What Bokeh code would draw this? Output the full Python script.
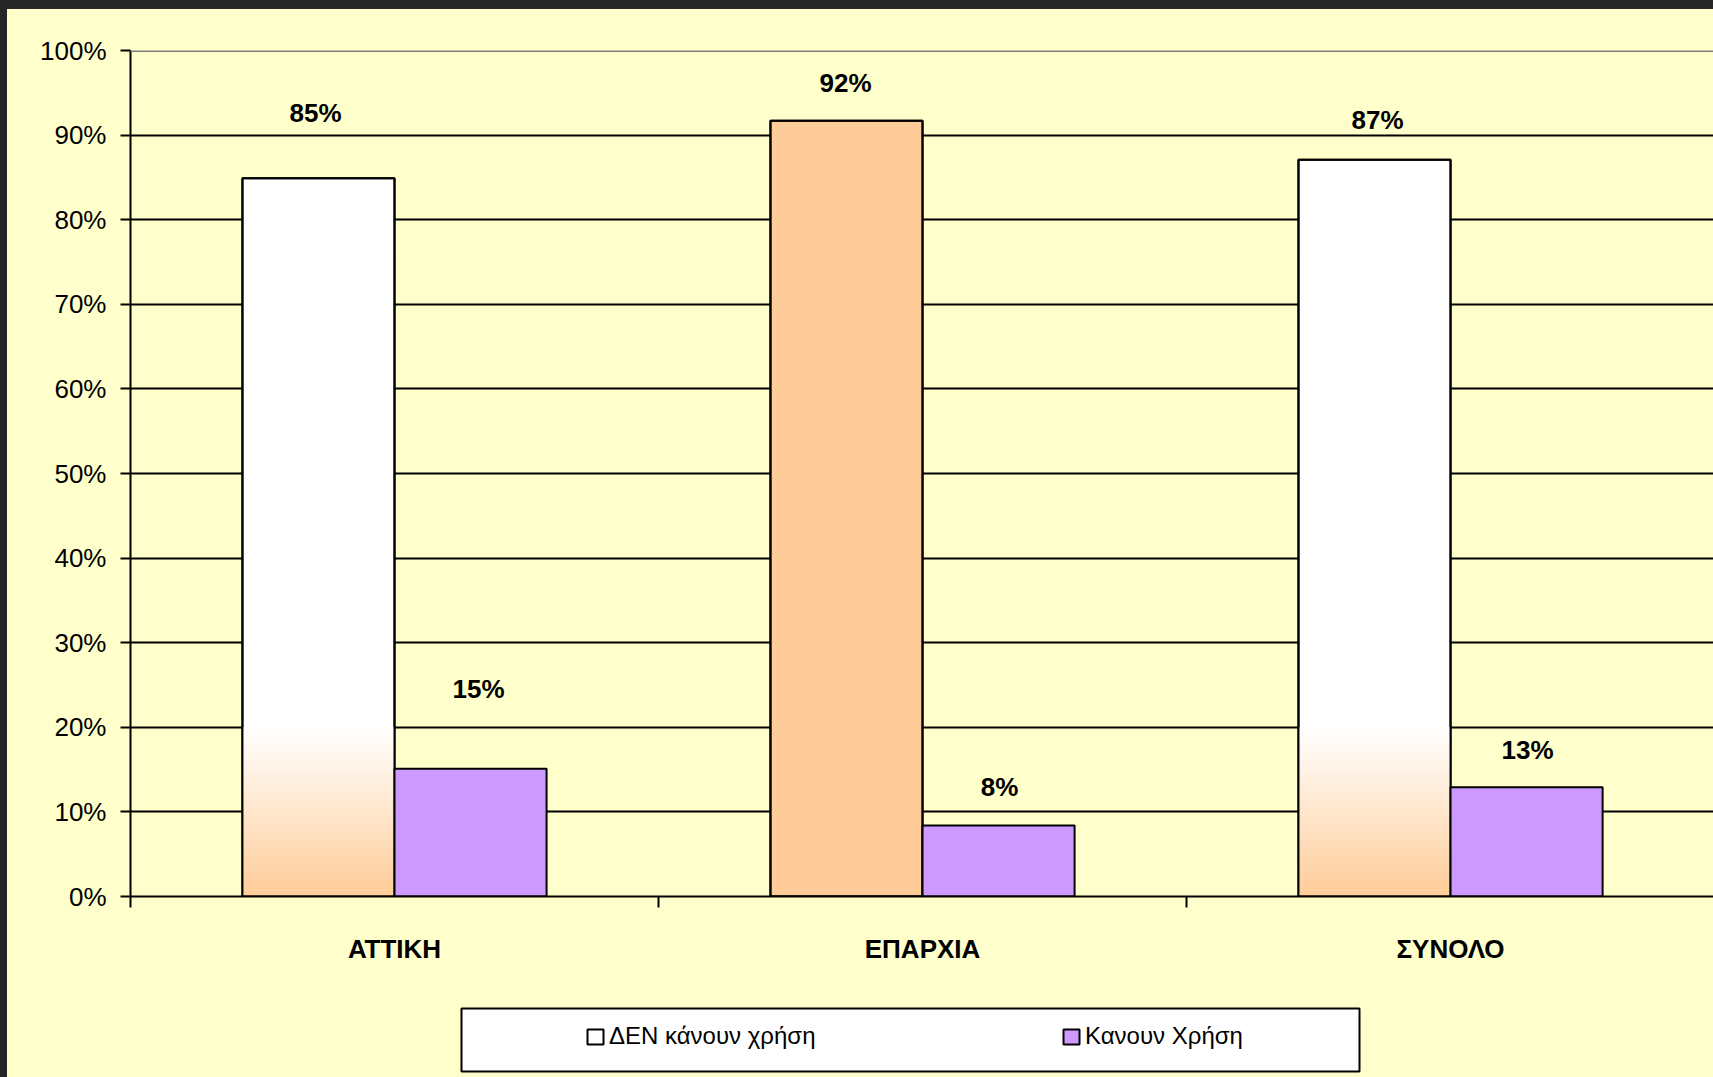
import numpy as np
from bokeh.plotting import figure
from bokeh.layouts import column
from bokeh.models import (Range1d, FixedTicker, NumeralTickFormatter, Span, Legend,
                          LegendItem, BoxAnnotation, GlobalInlineStyleSheet, Grid)
from bokeh.core.properties import value
from bokeh.embed import file_html
from bokeh.resources import INLINE

# ---------------- data ----------------
categories = ["ΑΤΤΙΚΗ", "ΕΠΑΡΧΙΑ", "ΣΥΝΟΛΟ"]
series_names = ["ΔΕΝ κάνουν χρήση", "Κανουν Χρήση"]
den_kanoun = [0.849, 0.917, 0.871]      # ΔΕΝ κάνουν χρήση
kanoun = [0.151, 0.084, 0.129]          # Κανουν Χρήση
y_ticks = [0.0, 0.1, 0.2, 0.3, 0.4, 0.5, 0.6, 0.7, 0.8, 0.9, 1.0]

# ---------------- style ----------------
FONT = "Liberation Sans"
BG = "#FFFFCC"
ORANGE = "#FFCC99"
PURPLE = "#CC99FF"
den_fill = ["white", ORANGE, "white"]
den_gradient = [True, False, True]
label_dx = [-3, -1, 3, 8, 1, 1]
label_dy = [65, 38, 40, 80, 38, 37]

W = 1706
H1, H2 = 985, 83
FRAME_LEFT = 123

p = figure(width=W, height=H1, x_range=Range1d(0, 2.998), y_range=Range1d(0, 1),
           output_backend="svg", toolbar_location=None, title_location=None,
           min_border_left=FRAME_LEFT, min_border_right=0, min_border_top=41,
           min_border_bottom=98,
           background_fill_color=BG, border_fill_color=BG, outline_line_color=None)
p.stylesheets = [GlobalInlineStyleSheet(
    css="html body { background-color: #FFFFCC; border-top: 9px solid #262626; "
        "border-left: 7px solid #262626; box-sizing: border-box; }")]

n = len(categories)
w = 0.288
xc = np.arange(n) + 0.5
x_den = xc - w / 2
x_kan = xc + w / 2

# base bars
p.vbar(x=x_den, top=den_kanoun, width=w, fill_color=den_fill, line_color="black", line_width=2)

# gradient (orange at bottom fading to white)
N = 30
g_top = 0.2
gl, gr, gb, gt, gc = [], [], [], [], []
orange_rgb = np.array([255, 204, 153])
white_rgb = np.array([255, 255, 255])
for i in range(n):
    if not den_gradient[i]:
        continue
    top_i = min(g_top, den_kanoun[i])
    for k in range(N):
        b = k * top_i / N
        t = min((k + 1) * top_i / N + 0.001, top_i)
        f = (k + 0.5) / N
        c = orange_rgb + (white_rgb - orange_rgb) * f
        gl.append(x_den[i] - w / 2)
        gr.append(x_den[i] + w / 2)
        gb.append(b)
        gt.append(t)
        gc.append("#%02X%02X%02X" % tuple(int(round(v)) for v in c))
p.quad(left=gl, right=gr, bottom=gb, top=gt, fill_color=gc, line_color=None)

# outlines on top
p.vbar(x=x_den, top=den_kanoun, width=w, fill_color=None, line_color="black", line_width=2)
p.vbar(x=x_kan, top=kanoun, width=w, fill_color=PURPLE, line_color="black", line_width=2)

# value labels
lx = list(x_den) + list(x_kan)
ly = list(den_kanoun) + list(kanoun)
lt = ["%d%%" % round(v * 100) for v in ly]
p.text(x=lx, y=ly, text=lt, x_offset=label_dx, y_offset=[-d for d in label_dy],
       text_align="center", text_baseline="middle", text_font=value(FONT),
       text_font_style="bold", text_font_size="26px", text_color="black")

# top border line (grey)
p.add_layout(Span(location=y_ticks[-1], dimension="width", line_color="#808080", line_width=3))

# axes
xa = p.xaxis[0]
xa.ticker = FixedTicker(ticks=list(xc), minor_ticks=list(range(n + 1)))
xa.major_label_overrides = {float(xc[i]): categories[i] for i in range(n)}
xa.axis_line_color = "black"
xa.axis_line_width = 2
xa.major_tick_line_color = None
xa.major_tick_in = 0
xa.major_tick_out = 0
xa.minor_tick_in = 0
xa.minor_tick_out = 11
xa.minor_tick_line_color = "black"
xa.minor_tick_line_width = 2
xa.major_label_text_font = FONT
xa.major_label_text_font_size = "26px"
xa.major_label_text_font_style = "bold"
xa.major_label_text_color = "black"
xa.major_label_standoff = 26

ya = p.yaxis[0]
ya.ticker = FixedTicker(ticks=y_ticks, minor_ticks=[])
ya.formatter = NumeralTickFormatter(format="0%")
ya.axis_line_color = "black"
ya.axis_line_width = 2
ya.major_tick_in = 0
ya.major_tick_out = 10
ya.major_tick_line_color = "black"
ya.major_tick_line_width = 2
ya.minor_tick_line_color = None
ya.major_label_text_font = FONT
ya.major_label_text_font_size = "26px"
ya.major_label_text_color = "black"
ya.major_label_standoff = 14

p.xgrid.visible = False
p.ygrid.ticker = FixedTicker(ticks=y_ticks[1:-1])
p.ygrid.grid_line_color = "black"
p.ygrid.grid_line_width = 2

# ---------------- legend strip (pixel-mapped frame, aligned with the main frame) ----------------
p2 = figure(width=W, height=H2, x_range=Range1d(FRAME_LEFT, W), y_range=Range1d(H2, 0),
            output_backend="svg", toolbar_location=None, title_location=None,
            x_axis_location=None, y_axis_location=None,
            min_border_left=FRAME_LEFT, min_border_right=0, min_border_top=0, min_border_bottom=0,
            background_fill_color=BG, border_fill_color=BG, outline_line_color=None)
for r in list(p2.center) + list(p2.renderers):
    if isinstance(r, Grid):
        r.visible = False
p2.xgrid.visible = False
p2.ygrid.visible = False

box = BoxAnnotation(left=454, right=1352, top=14, bottom=77,
                    fill_color="white", fill_alpha=1.0,
                    line_color="black", line_width=2, line_alpha=1.0)
p2.add_layout(box)

# legend glyph renderers (hidden; they only provide the legend swatches)
g_den = p2.vbar(x=x_den, top=den_kanoun, width=w, fill_color="white",
                line_color="black", line_width=2, visible=False)
g_kan = p2.vbar(x=x_kan, top=kanoun, width=w, fill_color=PURPLE,
                line_color="black", line_width=2, visible=False)

legend = Legend(items=[LegendItem(label=series_names[0], renderers=[g_den]),
                       LegendItem(label=series_names[1], renderers=[g_kan])],
                orientation="horizontal", location=(578 - FRAME_LEFT, 27),
                glyph_width=20, glyph_height=19, label_standoff=4, label_width=452,
                spacing=0, padding=0, margin=0, click_policy="none",
                label_text_font=FONT, label_text_font_size="24px",
                label_text_color="black",
                border_line_color=None, background_fill_alpha=0)
p2.add_layout(legend)

layout = column(p, p2, spacing=0)
open("out.html", "w").write(file_html(layout, INLINE))
